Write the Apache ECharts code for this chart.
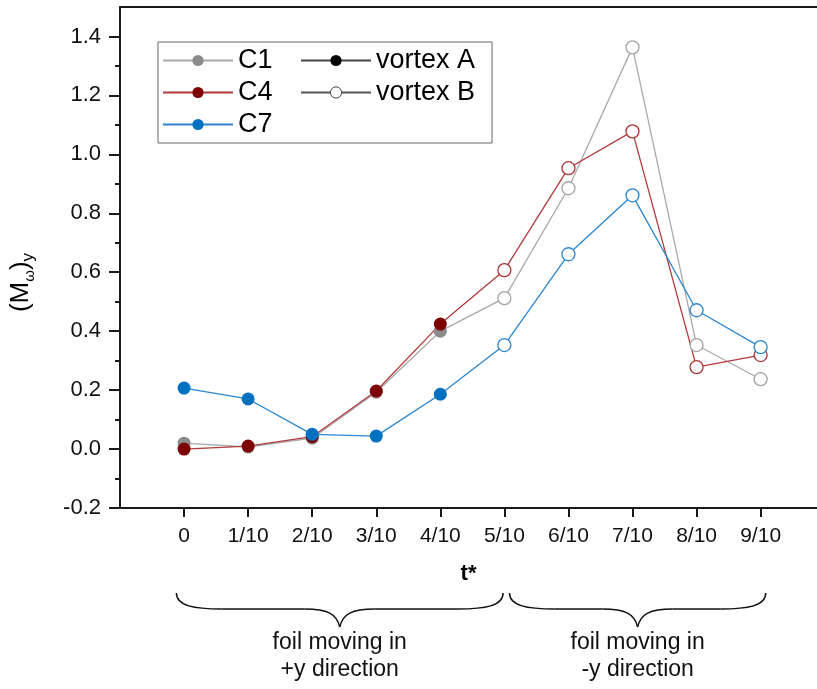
<!DOCTYPE html>
<html>
<head>
<meta charset="utf-8">
<script src="https://cdn.jsdelivr.net/npm/echarts@6/dist/echarts.min.js"></script>
<style>
  html, body { margin: 0; padding: 0; background: #fff; }
  #main { width: 817px; height: 689px; }
</style>
</head>
<body>
<div id="main"></div>
<script>
// t* positions (index) and their labels
var tLabels = ['0', '1/10', '2/10', '3/10', '4/10', '5/10', '6/10', '7/10', '8/10', '9/10'];
var tValues = [0, 1, 2, 3, 4, 5, 6, 7, 8, 9];
// which vortex each point belongs to
var vortex = ['A', 'A', 'A', 'A', 'A', 'B', 'B', 'B', 'B', 'B'];
// (M_w)_y values
var c1 = [0.020, 0.007, 0.037, 0.193, 0.400, 0.512, 0.885, 1.363, 0.353, 0.237];
var c4 = [0.000, 0.010, 0.042, 0.197, 0.424, 0.607, 0.953, 1.078, 0.278, 0.319];
var c7 = [0.207, 0.170, 0.050, 0.044, 0.186, 0.353, 0.661, 0.861, 0.471, 0.346];
// axis ticks
var yMajor = [-0.2, 0, 0.2, 0.4, 0.6, 0.8, 1.0, 1.2, 1.4];
var yMinor = [-0.1, 0.1, 0.3, 0.5, 0.7, 0.9, 1.1, 1.3];
// brace annotations: [from, to, text]
var braces = [
  [-0.12, 4.98, 'foil moving in\n+y direction'],
  [5.08, 9.08, 'foil moving in\n-y direction']
];

var FONT = 'Liberation Sans';
var chart = echarts.init(document.getElementById('main'));

// line colour, filled marker colour, ring colour
var styles = {
  C1: { line: '#a9a9a9', fill: '#8c8c8c', ring: '#a3a3a3' },
  C4: { line: '#b23a3a', fill: '#7f0000', ring: '#b03434' },
  C7: { line: '#2a86d0', fill: '#0070c0', ring: '#2a86d0' }
};

function makeSeries(name, values) {
  var st = styles[name];
  return {
    name: name,
    type: 'line',
    xAxisIndex: 0,
    yAxisIndex: 0,
    symbol: 'circle',
    symbolSize: 13,
    lineStyle: { color: st.line, width: 1.3 },
    itemStyle: { color: st.fill, borderColor: st.fill, borderWidth: 0 },
    data: values.map(function (v, i) {
      var item = { value: [tValues[i], v] };
      if (vortex[i] === 'B') {
        item.itemStyle = { color: '#fff', borderColor: st.ring, borderWidth: 1.3 };
      }
      return item;
    })
  };
}

var series = [
  makeSeries('C1', c1),
  makeSeries('C4', c4),
  makeSeries('C7', c7),
  // legend-only entries
  {
    name: 'vortex A', type: 'line', data: [], symbol: 'circle',
    lineStyle: { color: '#444', width: 1.3 },
    itemStyle: { color: '#000', borderColor: '#000', borderWidth: 0 }
  },
  {
    name: 'vortex B', type: 'line', data: [], symbol: 'circle',
    lineStyle: { color: '#555', width: 1.3 },
    itemStyle: { color: '#fff', borderColor: '#444', borderWidth: 1 }
  }
];

var axisLine = { show: true, onZero: false, lineStyle: { color: '#1a1a1a', width: 2 } };

var option = {
  animation: false,
  backgroundColor: '#fff',
  grid: { left: 117, right: 0, top: 7, bottom: 181 },
  legend: {
    orient: 'vertical',
    left: 158,
    top: 42,
    height: 93,
    padding: [5, 17, 5, 4],
    itemGap: 5,
    itemWidth: 70,
    itemHeight: 14,
    borderColor: '#666',
    borderWidth: 1,
    backgroundColor: '#fff',
    textStyle: { fontFamily: FONT, fontSize: 27, color: '#000' },
    // trailing spaces widen the first column so the second one starts further right
    formatter: function (name) {
      return name.charAt(0) === 'C' ? name + '   ' : name;
    },
    data: [
      { name: 'C1', itemStyle: { borderWidth: 0 } },
      { name: 'C4', itemStyle: { borderWidth: 0 } },
      { name: 'C7', itemStyle: { borderWidth: 0 } },
      { name: 'vortex A', itemStyle: { borderWidth: 0 } },
      { name: 'vortex B', itemStyle: { borderWidth: 1 } }
    ]
  },
  xAxis: [
    {
      type: 'value',
      min: -1,
      max: 9.88,
      interval: 1,
      name: 't*',
      nameLocation: 'middle',
      nameGap: 55,
      nameTextStyle: { fontFamily: FONT, fontSize: 22, fontWeight: 'bold', color: '#000' },
      axisLine: axisLine,
      axisTick: { show: true, inside: false, length: 9, customValues: tValues,
        lineStyle: { color: '#1a1a1a', width: 2 } },
      axisLabel: {
        customValues: tValues,
        margin: 18,
        fontFamily: FONT, fontSize: 21, color: '#111',
        formatter: function (v) { return tLabels[Math.round(v)] || ''; }
      },
      splitLine: { show: false }
    },
    {
      type: 'value',
      position: 'top',
      min: -1,
      max: 9.88,
      axisLine: axisLine,
      axisTick: { show: false },
      axisLabel: { show: false },
      splitLine: { show: false }
    }
  ],
  yAxis: [
    {
      type: 'value',
      min: -0.2,
      max: 1.5,
      interval: 0.2,
      name: '{a|(M}{b|ω}{a|)}{c|y}',
      nameLocation: 'middle',
      nameGap: 83,
      nameTextStyle: {
        padding: [0, 50, 0, 0],
        rich: {
          a: { fontFamily: FONT, fontSize: 26, color: '#000', lineHeight: 32, verticalAlign: 'middle' },
          b: { fontFamily: FONT, fontSize: 15, color: '#000', verticalAlign: 'bottom' },
          c: { fontFamily: FONT, fontSize: 17, color: '#000', verticalAlign: 'bottom' }
        }
      },
      axisLine: axisLine,
      axisTick: { show: true, inside: false, length: 11, customValues: yMajor,
        lineStyle: { color: '#1a1a1a', width: 2 } },
      axisLabel: {
        customValues: yMajor,
        margin: 19,
        fontFamily: FONT, fontSize: 22, color: '#111',
        formatter: function (v) { return v.toFixed(1); }
      },
      splitLine: { show: false }
    },
    {
      type: 'value',
      min: -0.2,
      max: 1.5,
      position: 'left',
      axisLine: { show: false, onZero: false },
      axisTick: { show: true, inside: false, length: 5, customValues: yMinor,
        lineStyle: { color: '#1a1a1a', width: 2 } },
      axisLabel: { show: false },
      splitLine: { show: false }
    }
  ],
  series: series
};

chart.setOption(option);

// braces under the x axis, placed with the axis scale
var graphics = [];
var braceStyle = { fill: null, stroke: '#111', lineWidth: 1.5 };
function curve(x1, y1, cx1, cy1, cx2, cy2, x2, y2) {
  graphics.push({
    type: 'bezierCurve', silent: true, style: braceStyle,
    shape: { x1: x1, y1: y1, cpx1: cx1, cpy1: cy1, cpx2: cx2, cpy2: cy2, x2: x2, y2: y2 }
  });
}
function seg(x1, y1, x2, y2) {
  graphics.push({
    type: 'line', silent: true, style: braceStyle,
    shape: { x1: x1, y1: y1, x2: x2, y2: y2 }
  });
}
braces.forEach(function (b) {
  var x0 = chart.convertToPixel({ xAxisIndex: 0 }, b[0]);
  var x1 = chart.convertToPixel({ xAxisIndex: 0 }, b[1]);
  var xm = (x0 + x1) / 2;
  var yTop = 593, yMid = 609, yTip = 627;
  curve(x0, yTop, x0, yTop + 13, x0 + 18, yMid, x0 + 45, yMid);
  seg(x0 + 45, yMid, xm - 35, yMid);
  curve(xm - 35, yMid, xm - 12, yMid, xm - 3, yMid + 5, xm, yTip);
  curve(xm, yTip, xm + 3, yMid + 5, xm + 12, yMid, xm + 35, yMid);
  seg(xm + 35, yMid, x1 - 45, yMid);
  curve(x1 - 45, yMid, x1 - 18, yMid, x1, yTop + 13, x1, yTop);
  graphics.push({
    type: 'text',
    x: xm,
    y: 629,
    silent: true,
    style: {
      text: b[2],
      fontFamily: FONT,
      fontSize: 23,
      lineHeight: 27,
      fill: '#111',
      align: 'center',
      verticalAlign: 'top'
    }
  });
});
chart.setOption({ graphic: graphics });
</script>
</body>
</html>
